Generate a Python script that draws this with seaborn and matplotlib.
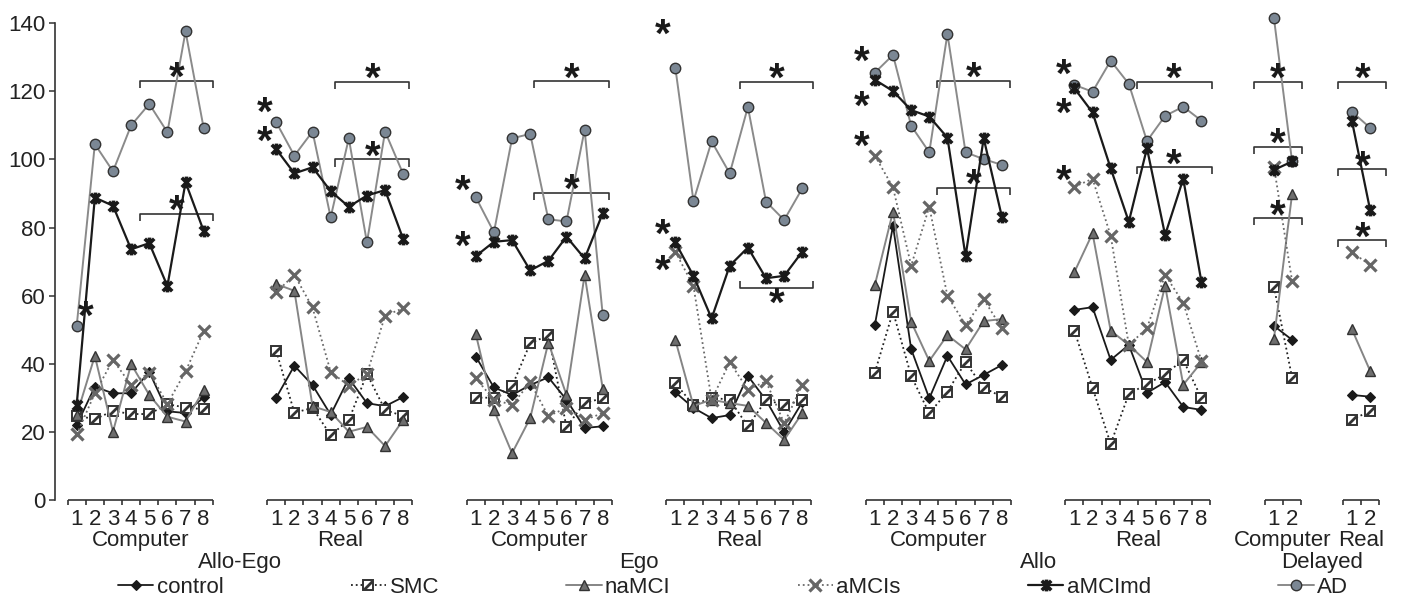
import numpy as np
import pandas as pd
import matplotlib
matplotlib.use("Agg")
import matplotlib.pyplot as plt
import seaborn as sns
from matplotlib.path import Path
from matplotlib.lines import Line2D

sns.set_theme(style="ticks")
plt.rcParams["font.family"] = ["Liberation Sans", "DejaVu Sans"]

# ---------------- data ----------------
group_names = ["Computer", "Real", "Computer", "Real", "Computer", "Real", "Computer", "Real"]
group_sizes = [8, 8, 8, 8, 8, 8, 2, 2]
group_starts = [0, 11, 22, 33, 44, 55, 66, 70.3]
super_labels = ["Allo-Ego", "Ego", "Allo", "Delayed"]
series_names = ["control", "SMC", "naMCI", "aMCIs", "aMCImd", "AD"]

control = [22.0, 33.2, 31.3, 31.3, 37.6, 26.0, 25.5, 30.1,
           30.0, 39.4, 33.7, 25.0, 35.7, 28.4, 27.5, 30.2,
           42.1, 33.0, 30.8, 33.7, 36.0, 29.4, 21.1, 21.6,
           31.6, 27.0, 24.0, 24.9, 36.4, 29.3, 19.9, 28.7,
           51.4, 80.5, 44.3, 29.8, 42.3, 33.9, 36.7, 39.6,
           55.8, 56.6, 41.1, 45.5, 31.4, 34.6, 27.3, 26.4,
           51.1, 47.0,
           30.8, 30.3]
smc = [24.7, 23.7, 26.1, 25.2, 25.2, 28.1, 27.1, 26.6,
       43.7, 25.6, 27.0, 19.0, 23.4, 37.0, 26.4, 24.6,
       30.0, 30.0, 33.4, 46.0, 48.3, 21.4, 28.5, 29.8,
       34.3, 27.8, 30.0, 29.4, 21.6, 29.3, 27.9, 29.2,
       37.4, 55.3, 36.4, 25.4, 31.8, 40.4, 32.9, 30.3,
       49.7, 32.9, 16.4, 31.1, 34.0, 36.9, 41.1, 29.9,
       62.6, 35.9,
       23.5, 26.1]
namci = [24.9, 42.3, 20.0, 39.9, 30.8, 24.4, 23.0, 32.3,
         63.4, 61.4, 27.5, 25.8, 20.0, 21.4, 15.8, 23.5,
         48.7, 26.4, 13.7, 24.0, 46.2, 30.8, 66.1, 32.6,
         47.0, 27.6, 29.4, 28.4, 27.6, 22.6, 17.6, 25.5,
         63.1, 84.7, 52.3, 40.8, 48.4, 44.2, 52.5, 53.1,
         66.9, 78.3, 49.7, 45.5, 40.5, 62.9, 33.8, 40.4,
         47.3, 89.8,
         50.1, 37.9]
amcis = [19.2, 31.3, 41.1, 33.7, 37.4, 28.2, 37.7, 49.6,
         61.0, 66.1, 56.5, 37.6, 33.5, 37.0, 54.1, 56.3,
         35.7, 29.4, 27.9, 34.5, 24.6, 27.0, 23.4, 25.5,
         72.9, 62.8, 29.4, 40.4, 32.4, 34.8, 22.5, 33.7,
         101.1, 91.8, 68.8, 86.1, 59.9, 51.4, 58.9, 50.4,
         92.0, 94.3, 77.6, 45.5, 50.4, 66.1, 57.9, 40.8,
         97.9, 64.3,
         72.7, 69.0]
amcimd = [27.9, 88.8, 86.4, 73.6, 75.4, 62.8, 93.3, 79.0,
          103.0, 95.9, 97.7, 90.7, 86.1, 89.4, 91.0, 76.6,
          71.6, 75.8, 76.3, 67.4, 70.2, 77.3, 70.9, 84.2,
          75.6, 65.8, 53.3, 68.8, 74.1, 65.1, 65.8, 72.9,
          123.4, 120.1, 114.5, 112.6, 106.4, 71.6, 106.2, 83.2,
          120.9, 113.8, 97.4, 81.7, 103.3, 77.8, 94.3, 64.1,
          96.9, 99.4,
          111.3, 85.2]
ad = [51.1, 104.5, 96.5, 110.0, 116.3, 108.0, 137.6, 109.2,
      110.9, 101.1, 108.2, 83.0, 106.2, 75.6, 108.2, 95.7,
      88.9, 78.6, 106.2, 107.5, 82.4, 81.8, 108.7, 54.2,
      127.0, 87.8, 105.3, 95.9, 115.4, 87.6, 82.2, 91.5,
      125.5, 130.7, 109.9, 102.1, 136.9, 102.1, 100.1, 98.4,
      121.9, 119.9, 129.0, 122.2, 105.4, 112.8, 115.5, 111.4,
      141.5, 99.4,
      114.0, 109.3]

# significance annotations (x in category units, y in data units)
bracket_x0 = [3.5, 14.26, 25.2, 36.56, 47.4, 58.43, 64.88, 69.55]
bracket_x1 = [7.53, 18.33, 29.34, 40.6, 51.47, 62.57, 67.56, 72.2]
bracket_levels = [[123.1, 84.1], [122.9, 100.0], [123.0, 90.2], [122.9, -62.3],
                  [123.1, 91.7], [122.9, 97.7], [122.9, 103.8, 82.7], [122.9, 97.1, 76.3]]
lone_star_x = [0.5, 10.34, 21.26, 21.26, 32.3, 32.3, 32.3,
               43.3, 43.3, 43.3, 54.4, 54.4, 54.4]
lone_star_y = [[55.7], [115.9, 107.3], [92.8], [76.3], [138.6], [80.0], [69.3],
               [130.7], [117.5], [105.7], [126.8], [115.5], [95.9]]

# ---------------- long table ----------------
rows = []
values = {"control": control, "SMC": smc, "naMCI": namci,
          "aMCIs": amcis, "aMCImd": amcimd, "AD": ad}
for name in series_names:
    vals = values[name]
    i = 0
    for g, (st, n) in enumerate(zip(group_starts, group_sizes)):
        for k in range(n):
            rows.append({"series": name, "group": g, "trial": k + 1,
                         "pos": st + k, "value": vals[i]})
            i += 1
df = pd.DataFrame(rows)

# ---------------- markers ----------------
star_path = Path([(-1, -1), (1, 1), (-1, 1), (1, -1), (0, -1.25), (0, 1.25)],
                 [Path.MOVETO, Path.LINETO, Path.MOVETO, Path.LINETO, Path.MOVETO, Path.LINETO])
hatch_path = Path([(-0.75, -0.75), (0.75, 0.75), (-1, -1), (1, 1)],
                  [Path.MOVETO, Path.LINETO, Path.MOVETO, Path.MOVETO])

styles = {
    "control": dict(color="#1a1a1a", linestyle="-", linewidth=1.3, marker="D",
                    markersize=5.5, markerfacecolor="#1a1a1a", markeredgecolor="#1a1a1a",
                    markeredgewidth=0.8, zorder=3),
    "SMC": dict(color="#222222", linestyle=":", linewidth=1.3, marker="s",
                markersize=7.5, markerfacecolor="white", markeredgecolor="#333333",
                markeredgewidth=1.4, zorder=3.1),
    "naMCI": dict(color="#858585", linestyle="-", linewidth=1.4, marker="^",
                  markersize=7.5, markerfacecolor="#6e6e6e", markeredgecolor="#333333",
                  markeredgewidth=1.0, zorder=3.2),
    "aMCIs": dict(color="#6a6a6a", linestyle=":", linewidth=1.3, marker="x",
                  markersize=8, markerfacecolor="#666666", markeredgecolor="#666666",
                  markeredgewidth=2.3, zorder=3.3),
    "AD": dict(color="#8a8a8a", linestyle="-", linewidth=1.4, marker="o",
               markersize=7.5, markerfacecolor="#7b8794", markeredgecolor="#333333",
               markeredgewidth=1.0, zorder=3.4),
    "aMCImd": dict(color="#1a1a1a", linestyle="-", linewidth=1.6, marker=star_path,
                   markersize=8.5, markerfacecolor="#1a1a1a", markeredgecolor="#1a1a1a",
                   markeredgewidth=2.6, zorder=3.5),
}
hatch_style = dict(linestyle="none", marker=hatch_path, markersize=7.5,
                   markeredgecolor="#333333", markeredgewidth=2.0)

# ---------------- figure ----------------
W, H = 1404, 605
fig = plt.figure(figsize=(W / 100, H / 100), dpi=100)
px0, px_cat = 76.7, 18.14
left_px, right_px = 55, 1395
top_px, bot_px = 23.3, 499.8
ax = fig.add_axes([left_px / W, 1 - bot_px / H, (right_px - left_px) / W, (bot_px - top_px) / H])

for name in ["control", "SMC", "naMCI", "aMCIs", "AD", "aMCImd"]:
    sub = df[df["series"] == name]
    sns.lineplot(data=sub, x="pos", y="value", units="group", estimator=None,
                 ax=ax, legend=False, clip_on=False, **styles[name])
    if name == "SMC":
        ax.plot(sub["pos"], sub["value"], clip_on=False, zorder=3.15, **hatch_style)

ax.set_xlim((left_px - px0) / px_cat, (right_px - px0) / px_cat)
ax.set_ylim(0, 140)
ax.set_yticks(np.arange(0, 141, 20))
ax.set_xlabel("")
ax.set_ylabel("")
sns.despine(ax=ax, bottom=True)
ax.spines["left"].set_color("#333333")
ax.spines["left"].set_linewidth(1.2)
ax.tick_params(axis="y", direction="out", length=4, width=1.1, color="#333333",
               labelsize=16, labelcolor="#222222", pad=3)
ax.tick_params(axis="x", bottom=False, labelbottom=False)

# ---------------- segmented x axis ----------------
trans = ax.get_xaxis_transform()
tick_frac = 5 / (bot_px - top_px)
axis_kw = dict(color="#333333", linewidth=1.2, clip_on=False, transform=trans,
               solid_capstyle="butt")
txt_kw = dict(xycoords=trans, textcoords="offset points", ha="center", va="center",
              fontsize=16, color="#222222", annotation_clip=False)
for g, (st, n) in enumerate(zip(group_starts, group_sizes)):
    ax.plot([st - 0.5, st + n - 0.5], [0, 0], **axis_kw)
    for k in range(n + 1):
        ax.plot([st - 0.5 + k, st - 0.5 + k], [0, -tick_frac], **axis_kw)
    for k in range(n):
        ax.annotate(str(k + 1), xy=(st + k, 0), xytext=(0, -14.5), **txt_kw)
    ax.annotate(group_names[g], xy=(st + (n - 1) / 2, 0), xytext=(0, -29.5), **txt_kw)
for j, lab in enumerate(super_labels):
    a, b = 2 * j, 2 * j + 1
    xc = ((group_starts[a] - 0.5) + (group_starts[b] + group_sizes[b] - 0.5)) / 2
    ax.annotate(lab, xy=(xc, 0), xytext=(0, -45.5), **txt_kw)

# ---------------- significance marks ----------------
br_kw = dict(color="#333333", linewidth=1.2, clip_on=False, solid_capstyle="butt")
star_fs = 29
px_per_unit = (bot_px - top_px) / 140.0
fs_px = star_fs * 100 / 72


def star(x, ys):
    # a stack of asterisks drawn as one text (baseline of the last line anchored)
    n = len(ys)
    ls = 1.0
    if n > 1:
        step_px = (ys[0] - ys[1]) * px_per_unit
        ls = (step_px - 0.212 * fs_px) / (0.729 * fs_px)
    ax.annotate("\n".join(["*"] * n), xy=(x, ys[-1]), xytext=(0, -0.47 * star_fs),
                textcoords="offset points", ha="center", va="baseline",
                fontsize=star_fs, fontweight="bold", linespacing=ls,
                color="#1a1a1a", annotation_clip=False, zorder=6)


for x0, x1, levels in zip(bracket_x0, bracket_x1, bracket_levels):
    for lv in levels:
        yv = abs(lv)
        d = 1 if lv > 0 else -1
        ax.plot([x0, x0, x1, x1], [yv - d * 2.1, yv, yv, yv - d * 2.1], **br_kw)
        star((x0 + x1) / 2, [yv + d * 2.8])
for x, ys in zip(lone_star_x, lone_star_y):
    star(x, ys)

# ---------------- legend ----------------
handles = []
for name in series_names:
    st_ = {k: v for k, v in styles[name].items() if k != "zorder"}
    h = Line2D([], [], **st_)
    if name == "SMC":
        h = (h, Line2D([], [], **hatch_style))
    handles.append(h)
fig.legend(handles, series_names, loc="center", bbox_to_anchor=(0.084, 0.0, 0.876, 0.058),
           mode="expand", ncol=6, frameon=False, fontsize=16, handlelength=1.6,
           handletextpad=0.15, borderaxespad=0, borderpad=0, labelcolor="#222222")

fig.savefig("out.png", dpi=100)
